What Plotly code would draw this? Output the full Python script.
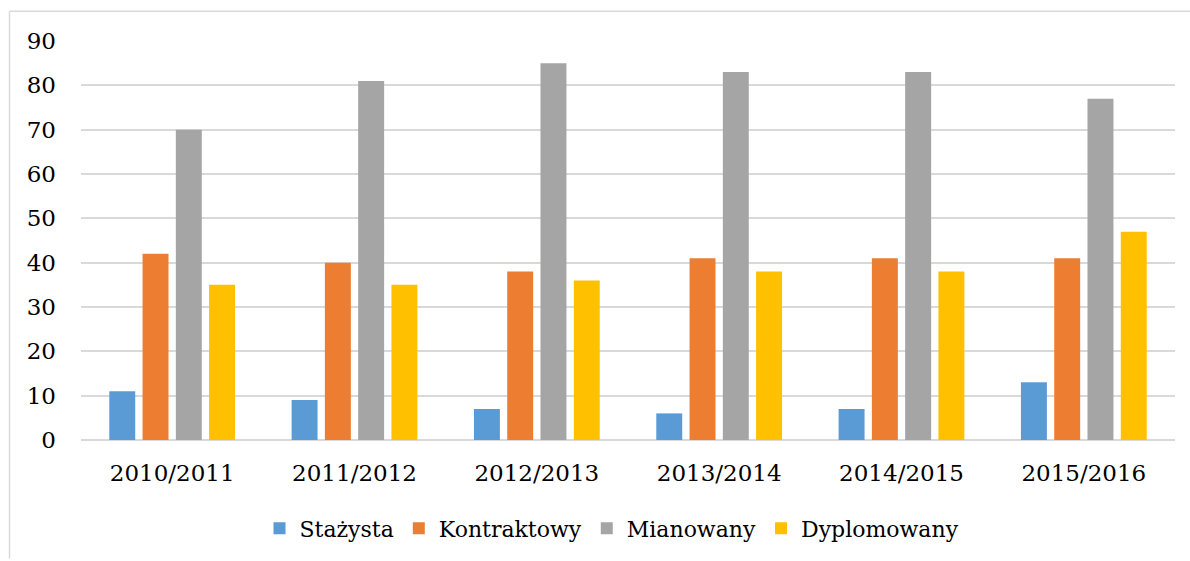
import plotly.graph_objects as go

categories = ["2010/2011", "2011/2012", "2012/2013", "2013/2014", "2014/2015", "2015/2016"]
series_names = ["Stażysta", "Kontraktowy", "Mianowany", "Dyplomowany"]
stazysta = [11, 9, 7, 6, 7, 13]
kontraktowy = [42, 40, 38, 41, 41, 41]
mianowany = [70, 81, 85, 83, 83, 77]
dyplomowany = [35, 35, 36, 38, 38, 47]
colors = ["#5B9BD5", "#ED7D31", "#A5A5A5", "#FFC000"]
y_ticks = [0, 10, 20, 30, 40, 50, 60, 70, 80, 90]

W, H = 1190, 561
ML, MR, MT, MB = 81, 15, 41, 119
FONT = "DejaVu Serif"

def px_x(p):
    return (p - ML) / (W - ML - MR)

def px_y(p):
    return (H - MB - p) / (H - MT - MB)

frame_line = dict(color="#D9D9D9", width=1.5)

fig = go.Figure()
for name, vals, col in zip(series_names, [stazysta, kontraktowy, mianowany, dyplomowany], colors):
    fig.add_trace(go.Bar(x=categories, y=vals, name=name, marker=dict(color=col, line=dict(width=0))))

fig.update_layout(
    width=W, height=H,
    margin=dict(l=ML, r=MR, t=MT, b=MB),
    paper_bgcolor="white", plot_bgcolor="white",
    barmode="group", bargap=0.27, bargroupgap=0.22,
    font=dict(family=FONT, size=23, color="#000000"),
    showlegend=True,
    legend=dict(orientation="h", x=px_x(612), xanchor="center", y=px_y(531), yanchor="middle",
                font=dict(family=FONT, size=22, color="#000000"), traceorder="normal",
                itemwidth=30, bgcolor="rgba(0,0,0,0)"),
    xaxis=dict(showgrid=False, showline=False, zeroline=False, ticks="",
               tickfont=dict(family=FONT, size=23), ticklabelstandoff=17),
    yaxis=dict(range=[0, 90], tickvals=y_ticks, showgrid=True, gridcolor="#D9D9D9", gridwidth=1.5,
               zeroline=True, zerolinecolor="#D9D9D9", zerolinewidth=1.5, showline=False, ticks="",
               tickfont=dict(family=FONT, size=23), ticklabelstandoff=24),
    shapes=[
        dict(type="line", xref="paper", yref="paper", x0=px_x(9.5), x1=px_x(1190), y0=px_y(11), y1=px_y(11),
             line=frame_line, layer="below"),
        dict(type="line", xref="paper", yref="paper", x0=px_x(9.5), x1=px_x(9.5), y0=px_y(11), y1=px_y(561),
             line=frame_line, layer="below"),
    ],
)

fig.write_html("out.html", config={"displayModeBar": False},
               post_script="document.body.style.margin='0';document.body.style.overflow='hidden';")
